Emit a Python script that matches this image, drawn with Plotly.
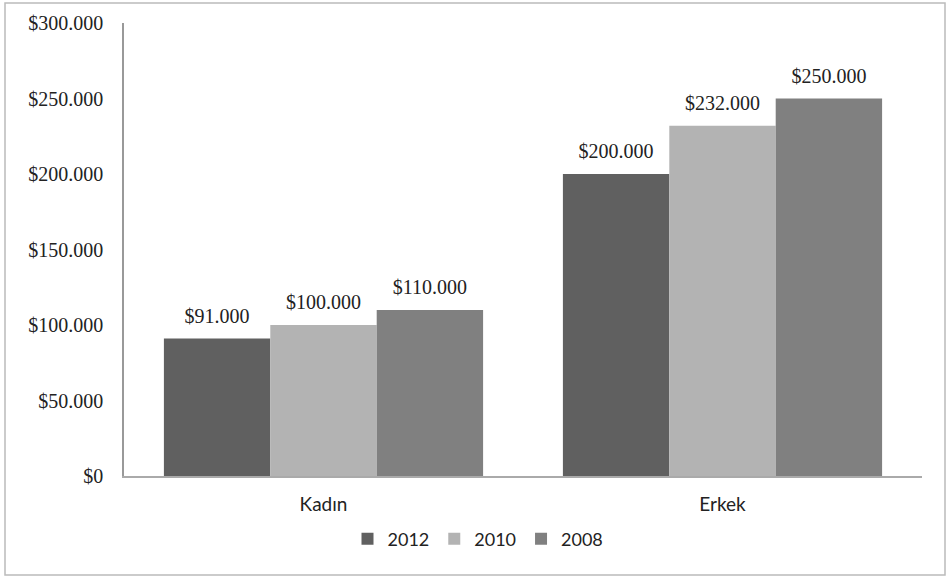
import plotly.graph_objects as go

categories = ["Kadın", "Erkek"]
series_names = ["2012", "2010", "2008"]
values_2012 = [91000, 200000]
values_2010 = [100000, 232000]
values_2008 = [110000, 250000]
colors = ["#606060", "#b3b3b3", "#808080"]

series_values = [values_2012, values_2010, values_2008]

fig = go.Figure()
for name, vals, col in zip(series_names, series_values, colors):
    fig.add_trace(go.Bar(
        x=categories, y=vals, name=name, offsetgroup=name,
        marker=dict(color=col, line=dict(width=0)),
    ))
for name, vals in zip(series_names, series_values):
    fig.add_trace(go.Scatter(
        x=categories, y=vals, name=name, offsetgroup=name, showlegend=False,
        mode="markers+text", marker=dict(size=16, opacity=0),
        texttemplate="%{y:$,.0f}", textposition="top center",
        textfont=dict(family="Liberation Serif", size=20, color="#222"),
        cliponaxis=False, hoverinfo="skip",
    ))

W, H = 948, 576
L, R, T, B = 124, 26, 23, 100
pw, ph = W - L - R, H - T - B

def px(x):
    return (x - L) / pw

def py(y):
    return (H - B - y) / ph

fig.update_layout(
    width=W, height=H,
    barmode="group", bargap=0.2, bargroupgap=0,
    scattermode="group", scattergap=0.2,
    separators=",.",
    paper_bgcolor="white", plot_bgcolor="white",
    margin=dict(l=L, r=R, t=T, b=B, autoexpand=False),
    showlegend=True,
    legend=dict(orientation="h", x=0.5 - 45 / pw, xanchor="center", y=py(539), yanchor="middle",
                font=dict(family="Lato", size=18, color="#222"),
                itemwidth=30, traceorder="normal"),
    xaxis=dict(showline=True, linecolor="#aaa", linewidth=1.5, ticks="",
               ticklabelstandoff=10,
               tickfont=dict(family="Lato", size=19, color="#222"), showgrid=False),
    yaxis=dict(range=[0, 300000], dtick=50000, tickprefix="$", tickformat=",.0f",
               showline=True, linecolor="#999", linewidth=1.5, ticks="", showgrid=False,
               zeroline=False, ticklabelstandoff=15,
               tickfont=dict(family="Liberation Serif", size=20, color="#222")),
    shapes=[dict(type="rect", xref="paper", yref="paper",
                 x0=px(5), x1=px(945), y0=py(575), y1=py(3),
                 line=dict(color="#bbb", width=1.5))],
)

fig.write_html("out.html", config={"displayModeBar": False},
               post_script="document.body.style.margin='0px';")
